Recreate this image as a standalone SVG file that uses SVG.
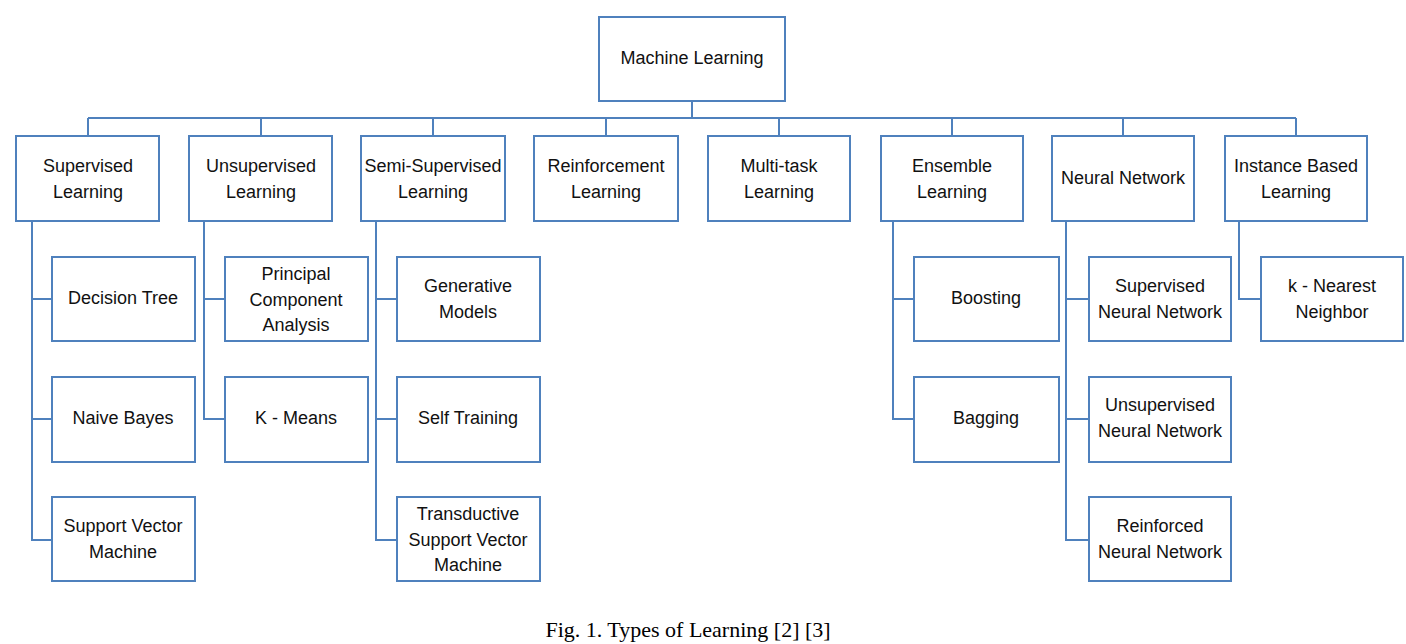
<svg xmlns="http://www.w3.org/2000/svg" width="1406" height="644" viewBox="0 0 1406 644">
<style>
.b{fill:#fff;stroke:#4F81BD;stroke-width:2}
.c{fill:none;stroke:#4F81BD;stroke-width:2}
.t{font-family:"Liberation Sans",Arial,sans-serif;font-size:18px;fill:#111;text-anchor:middle}
.cap{font-family:"Liberation Serif","Times New Roman",serif;font-size:22px;fill:#000;text-anchor:middle}
</style>
<rect width="1406" height="644" fill="#fff"/>
<g id="connectors">
<path class="c" d="M692 101V118M88 118H1296M88 118V136M261 118V136M433 118V136M606 118V136M779 118V136M952 118V136M1123 118V136M1296 118V136"/>
<path class="c" d="M32 221V540H52M32 299H52M32 419H52"/>
<path class="c" d="M204 221V419H225M204 299H225"/>
<path class="c" d="M376 221V540H397M376 299H397M376 419H397"/>
<path class="c" d="M893 221V419H914M893 299H914"/>
<path class="c" d="M1066 221V540H1089M1066 299H1089M1066 419H1089"/>
<path class="c" d="M1239 221V299H1261"/>
</g>
<g id="ml"><rect class="b" x="599" y="17" width="186" height="84"/><text class="t" x="692" y="64">Machine Learning</text></g>
<g id="supervised"><rect class="b" x="16" y="136" width="143" height="85"/><text class="t" x="88" y="172">Supervised</text><text class="t" x="88" y="198">Learning</text></g>
<g id="unsupervised"><rect class="b" x="189" y="136" width="143" height="85"/><text class="t" x="261" y="172">Unsupervised</text><text class="t" x="261" y="198">Learning</text></g>
<g id="semi"><rect class="b" x="361" y="136" width="144" height="85"/><text class="t" x="433" y="172">Semi-Supervised</text><text class="t" x="433" y="198">Learning</text></g>
<g id="reinforcement"><rect class="b" x="534" y="136" width="144" height="85"/><text class="t" x="606" y="172">Reinforcement</text><text class="t" x="606" y="198">Learning</text></g>
<g id="multitask"><rect class="b" x="708" y="136" width="142" height="85"/><text class="t" x="779" y="172">Multi-task</text><text class="t" x="779" y="198">Learning</text></g>
<g id="ensemble"><rect class="b" x="881" y="136" width="142" height="85"/><text class="t" x="952" y="172">Ensemble</text><text class="t" x="952" y="198">Learning</text></g>
<g id="neural"><rect class="b" x="1052" y="136" width="142" height="85"/><text class="t" x="1123" y="184">Neural Network</text></g>
<g id="instance"><rect class="b" x="1225" y="136" width="142" height="85"/><text class="t" x="1296" y="172">Instance Based</text><text class="t" x="1296" y="198">Learning</text></g>
<g id="dt"><rect class="b" x="52" y="257" width="143" height="84"/><text class="t" x="123" y="304">Decision Tree</text></g>
<g id="nb"><rect class="b" x="52" y="377" width="143" height="85"/><text class="t" x="123" y="424">Naive Bayes</text></g>
<g id="svm"><rect class="b" x="52" y="497" width="143" height="84"/><text class="t" x="123" y="532">Support Vector</text><text class="t" x="123" y="558">Machine</text></g>
<g id="pca"><rect class="b" x="225" y="257" width="143" height="84"/><text class="t" x="296" y="280">Principal</text><text class="t" x="296" y="306">Component</text><text class="t" x="296" y="331">Analysis</text></g>
<g id="kmeans"><rect class="b" x="225" y="377" width="143" height="85"/><text class="t" x="296" y="424">K - Means</text></g>
<g id="gen"><rect class="b" x="397" y="257" width="143" height="84"/><text class="t" x="468" y="292">Generative</text><text class="t" x="468" y="318">Models</text></g>
<g id="self"><rect class="b" x="397" y="377" width="143" height="85"/><text class="t" x="468" y="424">Self Training</text></g>
<g id="tsvm"><rect class="b" x="397" y="497" width="143" height="84"/><text class="t" x="468" y="520">Transductive</text><text class="t" x="468" y="546">Support Vector</text><text class="t" x="468" y="571">Machine</text></g>
<g id="boosting"><rect class="b" x="914" y="257" width="145" height="84"/><text class="t" x="986" y="304">Boosting</text></g>
<g id="bagging"><rect class="b" x="914" y="377" width="145" height="85"/><text class="t" x="986" y="424">Bagging</text></g>
<g id="snn"><rect class="b" x="1089" y="257" width="142" height="84"/><text class="t" x="1160" y="292">Supervised</text><text class="t" x="1160" y="318">Neural Network</text></g>
<g id="unn"><rect class="b" x="1089" y="377" width="142" height="85"/><text class="t" x="1160" y="411">Unsupervised</text><text class="t" x="1160" y="437">Neural Network</text></g>
<g id="rnn"><rect class="b" x="1089" y="497" width="142" height="84"/><text class="t" x="1160" y="532">Reinforced</text><text class="t" x="1160" y="558">Neural Network</text></g>
<g id="knn"><rect class="b" x="1261" y="257" width="142" height="84"/><text class="t" x="1332" y="292">k - Nearest</text><text class="t" x="1332" y="318">Neighbor</text></g>
<text class="cap" x="688" y="637">Fig. 1. Types of Learning [2] [3]</text>
</svg>
